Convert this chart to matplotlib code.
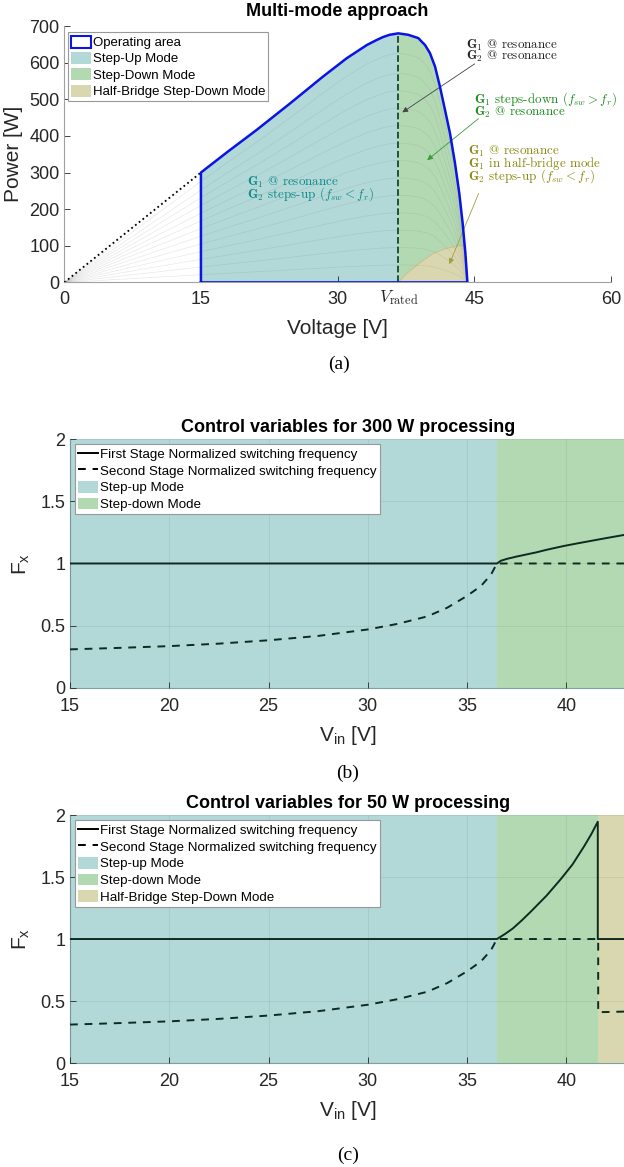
import matplotlib.pyplot as plt
from matplotlib.patches import Patch
from matplotlib.lines import Line2D
import matplotlib.transforms as mtrans

plt.rcParams['font.family'] = ['Liberation Sans', 'DejaVu Sans']
plt.rcParams['axes.unicode_minus'] = False

# ---- panel (a): operating area of the PV input ----
v_op = [15.0, 18.0, 21.1, 24.8, 28.4, 31.0, 33.2, 34.3, 35.0, 35.7, 36.66,
        37.76, 38.86, 39.6, 40.14, 40.7, 41.24, 41.79, 42.34, 42.89, 43.36, 43.73, 44.03, 44.25]
p_op = [300, 358, 416, 489, 562, 612, 648, 662, 670, 676, 680,
        676, 667, 648, 626, 589, 534, 471, 407, 325, 243, 161, 79, 0]
v_rated = 36.66
v_hb = [36.66, 37.6, 38.7, 39.5, 40.5, 41.6, 42.3, 43.2, 43.95, 44.25]
p_hb = [0, 25, 47, 62, 79, 90, 95, 100, 101, 0]
bg_scales = [0.07, 0.14, 0.21, 0.28, 0.35, 0.42, 0.49, 0.56, 0.63, 0.70, 0.77, 0.84, 0.92]

# ---- panels (b), (c): control variables ----
v_up = [15, 17.5, 20, 22.5, 25, 27.5, 30, 31.5, 33, 34, 35, 35.7, 36.2, 36.5]
f2_up = [0.31, 0.322, 0.336, 0.356, 0.383, 0.418, 0.47, 0.515, 0.575, 0.645, 0.74, 0.82, 0.91, 1.0]
v_dn_300 = [36.5, 36.7, 37.0, 37.5, 38.0, 38.5, 39.0, 39.85, 40.5, 41.25, 42.0, 43.0]
f1_dn_300 = [1.0, 1.022, 1.037, 1.056, 1.073, 1.09, 1.11, 1.14, 1.16, 1.182, 1.204, 1.232]
v_dn_50 = [36.5, 36.9, 37.3, 37.75, 38.2, 38.6, 39.0, 39.35, 39.7, 40.0, 40.3, 40.6, 40.9, 41.25, 41.58]
f1_dn_50 = [1.0, 1.04, 1.085, 1.15, 1.22, 1.285, 1.35, 1.415, 1.48, 1.54, 1.60, 1.675, 1.75, 1.845, 1.946]
v_hb_50 = 41.6
f2_hb_50 = [0.41, 0.415]

c_up = '#b2d8d8'
c_down = '#b3d9b3'
c_hb = '#d9d7b0'
c_text = '#262626'
fs_tick = 13
fs_label = 15

fig = plt.figure(figsize=(6.24, 11.67), dpi=100)

# ================= (a) =================
ax = fig.add_axes([0.103, 0.758, 0.876, 0.2197])
teal_v = [v for v in v_op if v <= v_rated]
teal_p = p_op[:len(teal_v)]
green_v = v_op[len(teal_v) - 1:]
green_p = p_op[len(teal_v) - 1:]
ax.fill_between(teal_v, teal_p, 0, color=c_up, lw=0, zorder=1)
ax.fill_between(green_v, green_p, 0, color=c_down, lw=0, zorder=1)
ax.fill(v_hb + [v_rated], p_hb + [0], color=c_hb, lw=0, zorder=2)
ax.plot(v_hb[:-1], p_hb[:-1], color='#c9c38e', lw=0.8, zorder=3)

# faint background curves
v_full = [0] + v_op
p_full = [0] + p_op
for s in bg_scales:
    ax.plot(v_full, [s * p for p in p_full], color='#808080', lw=0.5, alpha=0.18, zorder=3)

ax.plot([0, 15], [0, 300], color='black', ls=':', lw=1.3, zorder=4)
ax.plot([v_rated, v_rated], [0, 680], color='#17452f', ls='--', lw=1.3, zorder=4)
ax.plot([15] + v_op + [15], [0] + p_op + [0], color='#0a14e6', lw=1.8, zorder=5)

ax.set_xlim(0, 60)
ax.set_ylim(0, 700)
ax.set_xticks([0, 15, 30, 45, 60])
ax.set_yticks(range(0, 701, 100))
ax.tick_params(direction='in', length=4, labelsize=fs_tick, colors=c_text, width=0.6)
ax.tick_params(axis='x', pad=6)
for sp in ['top', 'right']:
    ax.spines[sp].set_visible(False)
for sp in ['left', 'bottom']:
    ax.spines[sp].set_color('#a0a0a0')
ax.set_xlabel('Voltage [V]', fontsize=fs_label, color=c_text, labelpad=8)
ax.set_ylabel('Power [W]', fontsize=fs_label, color=c_text, labelpad=4)
ax.set_title('Multi-mode approach', fontsize=13, fontweight='bold', pad=7)
trans = mtrans.blended_transform_factory(ax.transData, ax.transAxes)
ax.text(v_rated, -0.022, r'$V_\mathrm{rated}$', transform=trans, ha='center', va='top',
        fontsize=12.5, math_fontfamily='cm', color=c_text)


def note(x, y, lines, color):
    # one text block per annotation, lines packed tightly as in the original
    ax.text(x, y, '\n'.join(lines), color=color, fontfamily='cmr10', math_fontfamily='cm',
            fontsize=9.4, linespacing=0.62, ha='left', va='center', zorder=6)


note(44.1, 631, [r'$\mathbf{G_1}$ @ resonance', r'$\mathbf{G_2}$ @ resonance'], '#222222')
ax.annotate('', xy=(36.85, 460), xytext=(45.3, 601),
            arrowprops=dict(arrowstyle='-|>', color='#444444', lw=0.6, mutation_scale=8))
note(45.0, 484, [r'$\mathbf{G_1}$ steps-down ($f_{sw} > f_r$)', r'$\mathbf{G_2}$ @ resonance'],
     '#1e8c1e')
ax.annotate('', xy=(39.6, 329), xytext=(45.7, 452),
            arrowprops=dict(arrowstyle='-|>', color='#3a9a3a', lw=0.6, mutation_scale=8))
note(44.3, 322, [r'$\mathbf{G_1}$ @ resonance', r'$\mathbf{G_1}$ in half-bridge mode',
                 r'$\mathbf{G_2}$ steps-up ($f_{sw} < f_r$)'], '#8a8a12')
ax.annotate('', xy=(42.15, 43), xytext=(45.6, 250),
            arrowprops=dict(arrowstyle='-|>', color='#a0a040', lw=0.6, mutation_scale=8))
note(20.05, 255, [r'$\mathbf{G_1}$ @ resonance', r'$\mathbf{G_2}$ steps-up ($f_{sw} < f_r$)'],
     '#108a8a')

leg_handles = [Patch(facecolor='white', edgecolor='#0a14e6', lw=1.5, label='Operating area'),
               Patch(facecolor=c_up, label='Step-Up Mode'),
               Patch(facecolor=c_down, label='Step-Down Mode'),
               Patch(facecolor=c_hb, label='Half-Bridge Step-Down Mode')]
leg = ax.legend(handles=leg_handles, loc='upper left', bbox_to_anchor=(0.006, 0.975), fontsize=9.5,
                fancybox=False, edgecolor='#999999', framealpha=1, handlelength=1.5,
                handleheight=1.0, handletextpad=0.15, labelspacing=0.22, borderpad=0.25,
                borderaxespad=0)
leg.get_frame().set_linewidth(0.8)

fig.text(0.543, 0.688, '(a)', ha='center', va='center', fontsize=14, fontfamily='Liberation Serif')


# ================= (b) and (c) =================
def control_axes(rect, title, v_dn, f1_dn, half_bridge):
    ax = fig.add_axes(rect)
    v_end = 43
    ax.axvspan(15, 36.5, color=c_up, lw=0, zorder=0)
    if half_bridge:
        ax.axvspan(36.5, v_hb_50, color=c_down, lw=0, zorder=0)
        ax.axvspan(v_hb_50, v_end, color=c_hb, lw=0, zorder=0)
    else:
        ax.axvspan(36.5, v_end, color=c_down, lw=0, zorder=0)
    ax.grid(True, color='black', alpha=0.07, lw=0.6)
    ax.set_axisbelow(False)
    k = dict(color='#0f2a1e', lw=1.4, zorder=3)
    if half_bridge:
        ax.plot([15, 36.5] + v_dn[1:] + [v_dn[-1], v_dn[-1], v_end],
                [1, 1] + f1_dn[1:] + [1, 1, 1], ls='-', **k)
        ax.plot(v_up + [v_hb_50, v_hb_50, v_hb_50, v_end],
                f2_up + [1, 1, f2_hb_50[0], f2_hb_50[1]], ls=(0, (4, 3.5)), **k)
    else:
        ax.plot([15, 36.5] + v_dn[1:], [1, 1] + f1_dn[1:], ls='-', **k)
        ax.plot(v_up + [v_end], f2_up + [1], ls=(0, (4, 3.5)), **k)
    ax.set_xlim(15, v_end)
    ax.set_ylim(0, 2)
    ax.set_xticks([15, 20, 25, 30, 35, 40])
    ax.set_yticks([0, 0.5, 1, 1.5, 2])
    ax.set_yticklabels(['0', '0.5', '1', '1.5', '2'])
    ax.tick_params(direction='in', length=4, labelsize=fs_tick, colors=c_text, width=0.6)
    ax.tick_params(axis='x', pad=7)
    for sp in ['top', 'right']:
        ax.spines[sp].set_visible(False)
    for sp in ['left', 'bottom']:
        ax.spines[sp].set_color('#7fa0a0')
    ax.set_xlabel(r'$\mathregular{V_{in}}$ [V]', fontsize=fs_label, color=c_text, labelpad=7)
    ax.set_ylabel(r'$\mathregular{F_x}$', fontsize=fs_label, color=c_text, labelpad=6)
    ax.set_title(title, fontsize=13, fontweight='bold', pad=5)
    handles = [Line2D([], [], color='black', lw=1.4, label='First Stage Normalized switching frequency'),
               Line2D([], [], color='black', lw=1.4, ls=(0, (4, 3.5)),
                      label='Second Stage Normalized switching frequency'),
               Patch(facecolor=c_up, label='Step-up Mode'),
               Patch(facecolor=c_down, label='Step-down Mode')]
    if half_bridge:
        handles.append(Patch(facecolor=c_hb, label='Half-Bridge Step-Down Mode'))
    lg = ax.legend(handles=handles, loc='upper left', bbox_to_anchor=(0.009, 0.98), fontsize=9.6,
                   fancybox=False, edgecolor='#999999', framealpha=1, handlelength=1.5,
                   handleheight=1.0, handletextpad=0.15, labelspacing=0.24, borderpad=0.25,
                   borderaxespad=0)
    lg.get_frame().set_linewidth(0.8)
    return ax


control_axes([0.1122, 0.4105, 0.891, 0.2133], 'Control variables for 300 W processing',
             v_dn_300, f1_dn_300, False)
fig.text(0.557, 0.3376, '(b)', ha='center', va='center', fontsize=14, fontfamily='Liberation Serif')

control_axes([0.1122, 0.0891, 0.891, 0.2125], 'Control variables for 50 W processing',
             v_dn_50, f1_dn_50, True)
fig.text(0.557, 0.0103, '(c)', ha='center', va='center', fontsize=14, fontfamily='Liberation Serif')

fig.savefig('out.png', dpi=100)
